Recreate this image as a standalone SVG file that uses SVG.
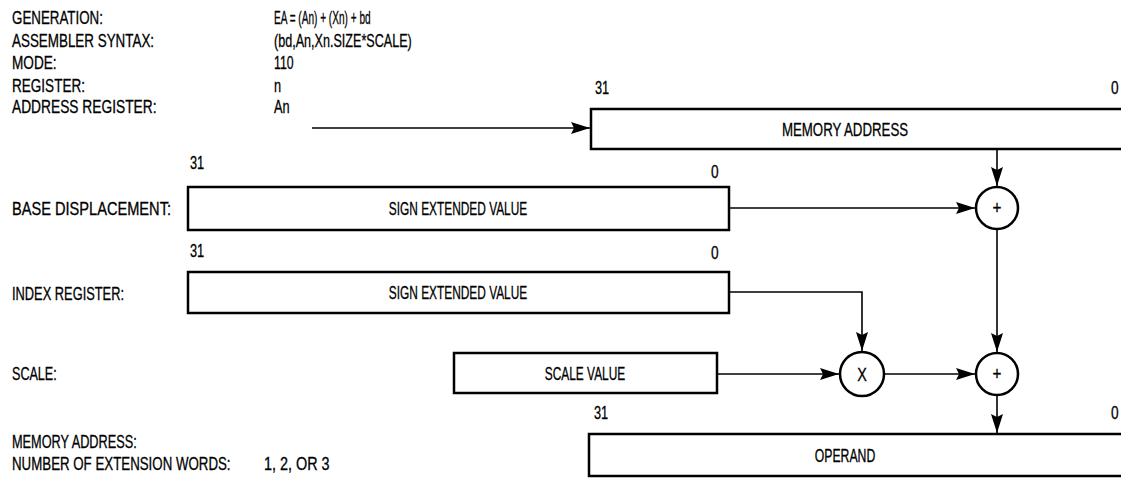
<svg xmlns="http://www.w3.org/2000/svg" width="1121" height="490" viewBox="0 0 1121 490">
<style>
text{font-family:"Liberation Sans",Arial,sans-serif;font-size:18px;fill:#000;stroke:#000;stroke-width:0.3}
.box{fill:#fff;stroke:#000;stroke-width:2.5}
.c{fill:none;stroke:#000;stroke-width:1.6}
.m{text-anchor:middle}
</style>
<defs>
<marker id="ah" markerUnits="userSpaceOnUse" markerWidth="20" markerHeight="14" refX="19" refY="7" orient="auto">
<path d="M0,1 L19,7 L0,13 L3,7 z" fill="#000"/>
</marker>
</defs>
<rect width="1121" height="490" fill="#fff"/>
<g id="labels">
<text transform="translate(12,23.5) scale(0.742,1)">GENERATION:</text>
<text transform="translate(12,46.5) scale(0.746,1)">ASSEMBLER SYNTAX:</text>
<text transform="translate(12,68.5) scale(0.755,1)">MODE:</text>
<text transform="translate(12,91.5) scale(0.753,1)">REGISTER:</text>
<text transform="translate(12,112.5) scale(0.765,1)">ADDRESS REGISTER:</text>
<text transform="translate(274,23.5) scale(0.56,1)">EA = (An) + (Xn) + bd</text>
<text transform="translate(274,46.5) scale(0.7,1)">(bd,An,Xn.SIZE*SCALE)</text>
<text transform="translate(274,68.5) scale(0.68,1)">110</text>
<text transform="translate(274,91.5) scale(0.71,1)">n</text>
<text transform="translate(274,112.5) scale(0.71,1)">An</text>
<text transform="translate(12,214.5) scale(0.812,1)">BASE DISPLACEMENT:</text>
<text transform="translate(12,299.5) scale(0.714,1)">INDEX REGISTER:</text>
<text transform="translate(12,379.5) scale(0.7,1)">SCALE:</text>
<text transform="translate(12,447.5) scale(0.708,1)">MEMORY ADDRESS:</text>
<text transform="translate(12,469.5) scale(0.739,1)">NUMBER OF EXTENSION WORDS:</text>
<text transform="translate(264,469.5) scale(0.8,1)">1, 2, OR 3</text>
</g>
<g id="memory-address">
<rect class="box" x="591" y="109" width="545" height="40"/>
<text transform="translate(595,94) scale(0.71,1)">31</text>
<text transform="translate(1111,94) scale(0.76,1)">0</text>
<text class="m" transform="translate(845,135.5) scale(0.737,1)">MEMORY ADDRESS</text>
</g>
<g id="base-displacement">
<rect class="box" x="188" y="187" width="541" height="43"/>
<text transform="translate(190,169) scale(0.71,1)">31</text>
<text transform="translate(711,178) scale(0.76,1)">0</text>
<text class="m" transform="translate(458,214.5) scale(0.66,1)">SIGN EXTENDED VALUE</text>
</g>
<g id="index-register">
<rect class="box" x="188" y="272" width="541" height="41"/>
<text transform="translate(190,257) scale(0.71,1)">31</text>
<text transform="translate(711,259) scale(0.76,1)">0</text>
<text class="m" transform="translate(458,298.5) scale(0.66,1)">SIGN EXTENDED VALUE</text>
</g>
<g id="scale-value">
<rect class="box" x="454" y="353" width="263" height="40"/>
<text class="m" transform="translate(585,379.5) scale(0.66,1)">SCALE VALUE</text>
</g>
<g id="operand">
<rect class="box" x="589" y="434" width="547" height="42"/>
<text transform="translate(594,419) scale(0.71,1)">31</text>
<text transform="translate(1111,419) scale(0.76,1)">0</text>
<text class="m" transform="translate(845,461.5) scale(0.68,1)">OPERAND</text>
</g>
<g id="add1">
<circle class="box" cx="997" cy="208" r="21"/>
<text class="m" transform="translate(997,214) scale(0.85,1)">+</text>
</g>
<g id="mul">
<circle class="box" cx="862" cy="374" r="22"/>
<text class="m" transform="translate(862,380.5) scale(0.8,1)">X</text>
</g>
<g id="add2">
<circle class="box" cx="997" cy="374" r="21"/>
<text class="m" transform="translate(997,380) scale(0.85,1)">+</text>
</g>
<g id="connectors">
<path class="c" d="M312,128 H590" marker-end="url(#ah)"/>
<path class="c" d="M997,150 V186" marker-end="url(#ah)"/>
<path class="c" d="M730,208 H975" marker-end="url(#ah)"/>
<path class="c" d="M730,292 H862 V351" marker-end="url(#ah)"/>
<path class="c" d="M997,229 V352" marker-end="url(#ah)"/>
<path class="c" d="M718,374 H839" marker-end="url(#ah)"/>
<path class="c" d="M884,374 H975" marker-end="url(#ah)"/>
<path class="c" d="M997,395 V433" marker-end="url(#ah)"/>
</g>
</svg>
